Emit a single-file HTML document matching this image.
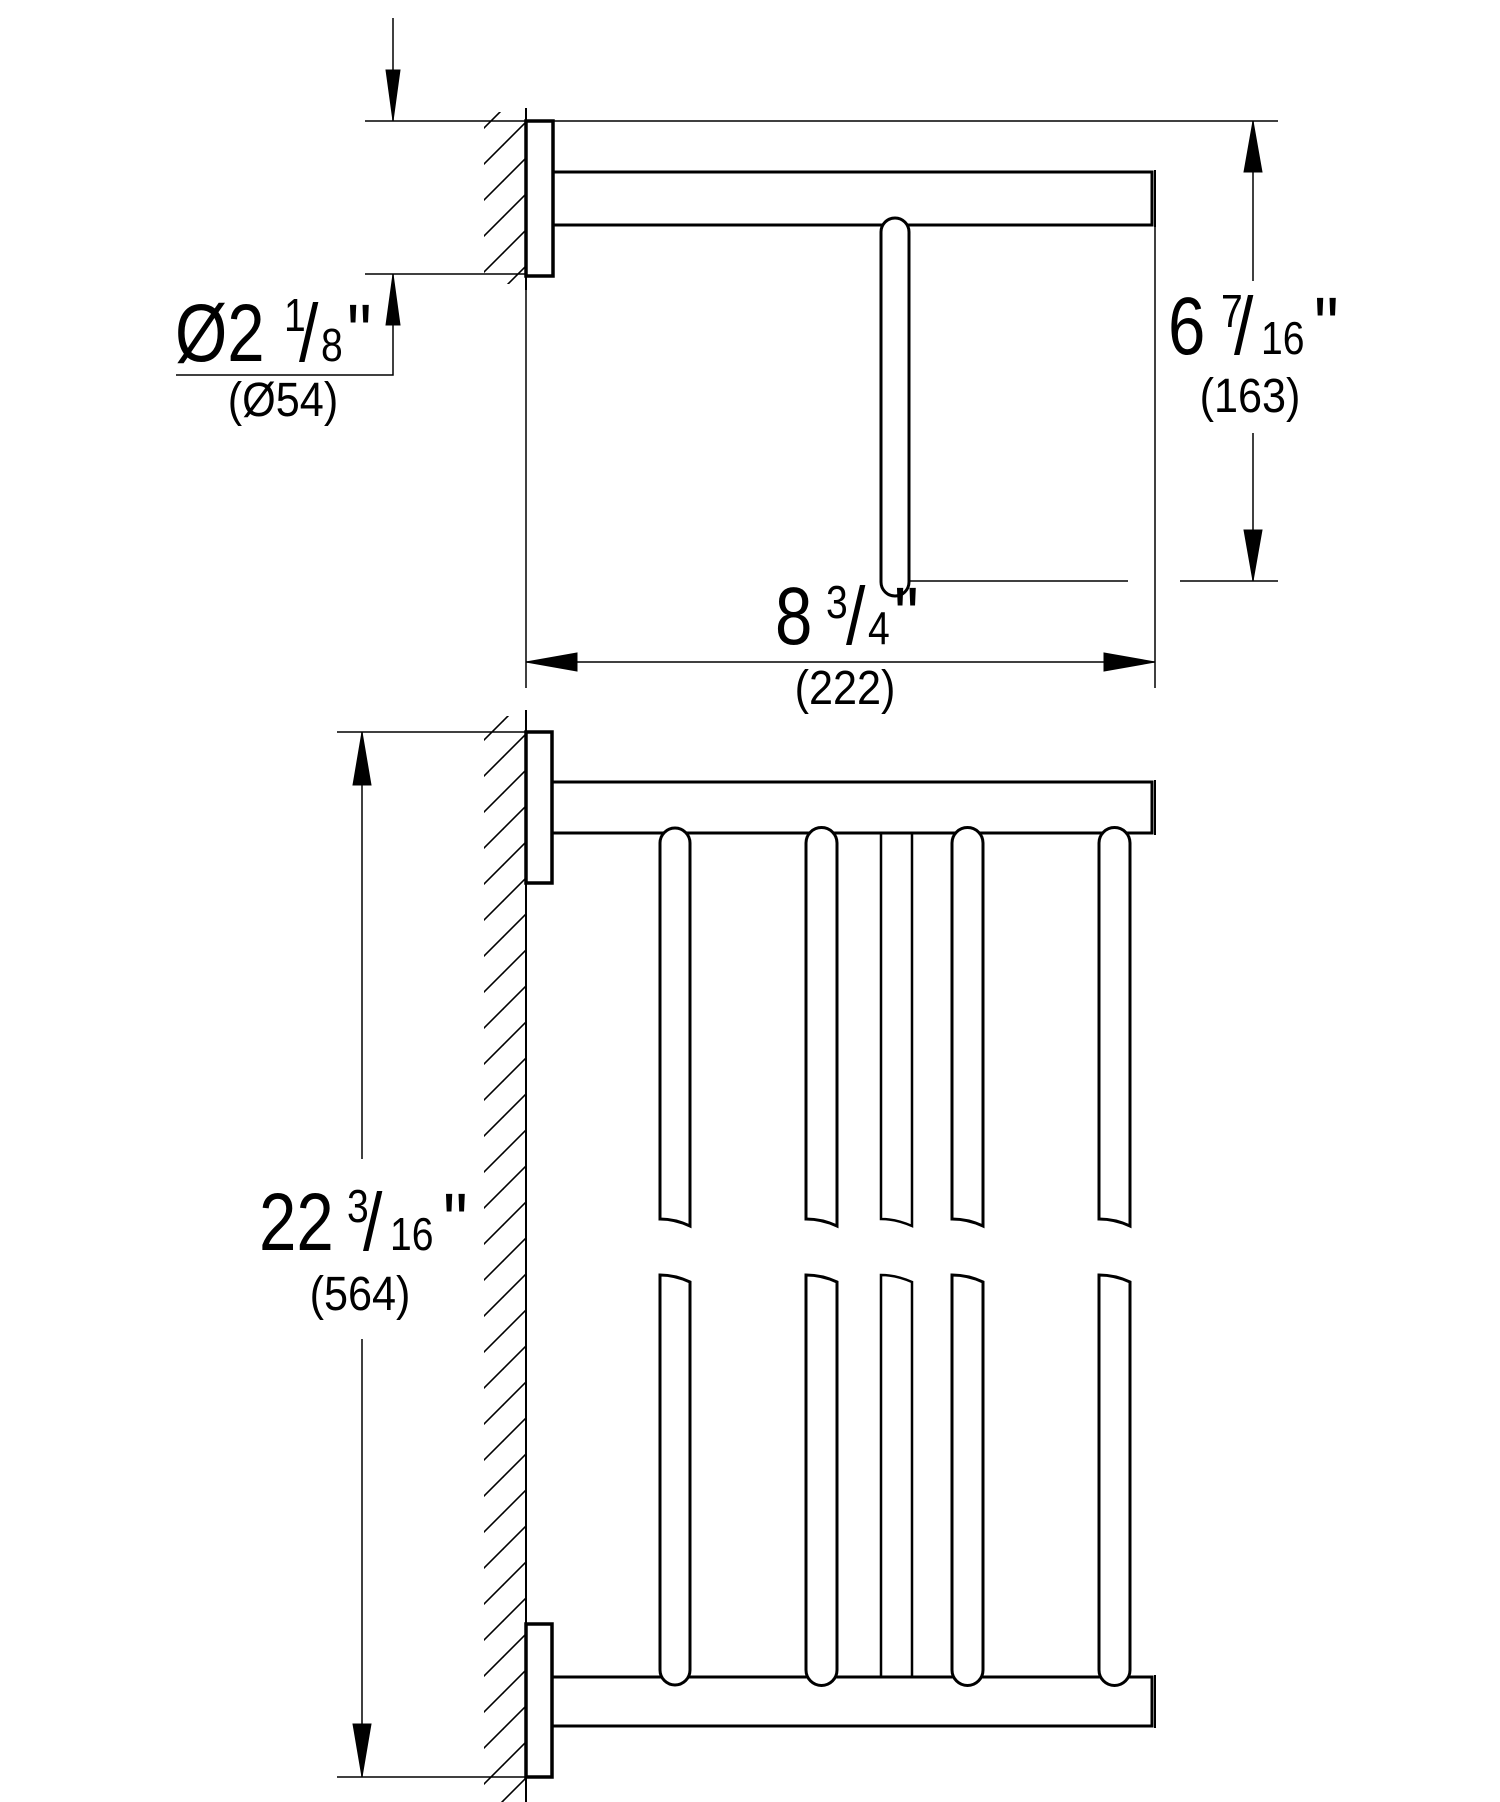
<!DOCTYPE html>
<html><head><meta charset="utf-8"><style>
html,body{margin:0;padding:0;background:#fff}
svg{display:block}
text{font-family:"Liberation Sans",sans-serif;fill:#000}
</style></head><body>
<svg width="1500" height="1802" viewBox="0 0 1500 1802" xmlns="http://www.w3.org/2000/svg">
<defs>
<pattern id="h" patternUnits="userSpaceOnUse" width="36" height="36">
<line x1="-2" y1="38" x2="38" y2="-2" stroke="#000" stroke-width="1.6"/>
<line x1="-38" y1="38" x2="2" y2="-2" stroke="#000" stroke-width="1.6"/>
<line x1="34" y1="38" x2="74" y2="-2" stroke="#000" stroke-width="1.6"/>
</pattern>
</defs>
<g fill="none" stroke="#000">
<rect x="484" y="112" width="42" height="172" fill="url(#h)" stroke="none"/>
<rect x="484" y="716" width="42" height="1086" fill="url(#h)" stroke="none"/>
<line x1="526" y1="108" x2="526" y2="290" stroke-width="2"/>
<line x1="526" y1="710" x2="526" y2="1802" stroke-width="2"/>

<!-- TOP VIEW -->
<line x1="365" y1="121" x2="1278" y2="121" stroke-width="1.5"/>
<line x1="393" y1="18" x2="393" y2="121" stroke-width="1.5"/>
<polygon points="386,70 400,70 393,121" fill="#000"/>
<line x1="365" y1="274" x2="526" y2="274" stroke-width="1.5"/>
<polyline points="393,274 393,375 176,375" stroke-width="1.5"/>
<polygon points="386,325 400,325 393,274" fill="#000"/>
<rect x="526" y="121" width="27" height="155" stroke-width="3.5"/>
<polyline points="553,172 1152,172 1152,225 553,225" stroke-width="3"/>
<line x1="1155" y1="170" x2="1155" y2="227" stroke-width="2"/>
<path d="M881 582 L881 232 A14 14 0 0 1 909 232 L909 582 A14 14 0 0 1 881 582 Z" fill="#fff" stroke-width="3"/>
<line x1="909" y1="581" x2="1128" y2="581" stroke-width="1.5"/>
<line x1="1180" y1="581" x2="1278" y2="581" stroke-width="1.5"/>
<line x1="1253" y1="121" x2="1253" y2="281" stroke-width="1.5"/>
<line x1="1253" y1="433" x2="1253" y2="581" stroke-width="1.5"/>
<polygon points="1244,172 1262,172 1253,121" fill="#000"/>
<polygon points="1244,530 1262,530 1253,581" fill="#000"/>
<line x1="526" y1="290" x2="526" y2="688" stroke-width="1.5"/>
<line x1="1155" y1="227" x2="1155" y2="688" stroke-width="1.5"/>
<line x1="526" y1="662" x2="1155" y2="662" stroke-width="1.5"/>
<polygon points="526,662 577,653 577,671" fill="#000"/>
<polygon points="1155,662 1104,653 1104,671" fill="#000"/>

<!-- BOTTOM VIEW -->
<line x1="337" y1="732" x2="552" y2="732" stroke-width="1.5"/>
<line x1="337" y1="1777" x2="552" y2="1777" stroke-width="1.5"/>
<line x1="362" y1="732" x2="362" y2="1159" stroke-width="1.5"/>
<line x1="362" y1="1339" x2="362" y2="1777" stroke-width="1.5"/>
<polygon points="353,785 371,785 362,732" fill="#000"/>
<polygon points="353,1724 371,1724 362,1777" fill="#000"/>
<rect x="526" y="732" width="26" height="151" stroke-width="3.5"/>
<rect x="526" y="1624" width="26" height="153" stroke-width="3.5"/>
<polyline points="552,782 1152,782 1152,833 552,833" stroke-width="3"/>
<line x1="1155" y1="780" x2="1155" y2="835" stroke-width="2"/>
<polyline points="552,1677 1152,1677 1152,1726 552,1726" stroke-width="3"/>
<line x1="1155" y1="1675" x2="1155" y2="1728" stroke-width="2"/>
<path d="M881 833 L881 1219 Q896 1219 912 1226 L912 833" stroke-width="2.5"/>
<path d="M881 1677 L881 1275 Q896 1275 912 1282 L912 1677" stroke-width="2.5"/>
<g stroke-width="3" fill="#fff">
<path d="M660 1219 L660 843 A15 15 0 0 1 690 843 L690 1226 Q675 1219 660 1219 Z"/>
<path d="M660 1275 Q675 1275 690 1282 L690 1670 A15 15 0 0 1 660 1670 Z"/>
<path d="M806 1219 L806 843 A15.5 15.5 0 0 1 837 843 L837 1226 Q822 1219 806 1219 Z"/>
<path d="M806 1275 Q822 1275 837 1282 L837 1670 A15.5 15.5 0 0 1 806 1670 Z"/>
<path d="M952 1219 L952 843 A15.5 15.5 0 0 1 983 843 L983 1226 Q968 1219 952 1219 Z"/>
<path d="M952 1275 Q968 1275 983 1282 L983 1670 A15.5 15.5 0 0 1 952 1670 Z"/>
<path d="M1099 1219 L1099 843 A15.5 15.5 0 0 1 1130 843 L1130 1226 Q1115 1219 1099 1219 Z"/>
<path d="M1099 1275 Q1115 1275 1130 1282 L1130 1670 A15.5 15.5 0 0 1 1099 1670 Z"/>
</g>
</g>

<!-- TEXT -->
<g>
<text transform="translate(175,361) scale(0.82,1)" font-size="82">Ø2</text>
<text transform="translate(284,331) scale(0.85,1)" font-size="46">1</text>
<text transform="translate(299,361) scale(0.85,1)" font-size="82">/</text>
<text transform="translate(321,361) scale(0.85,1)" font-size="46">8</text>
<text transform="translate(347,361) scale(0.85,1)" font-size="82">"</text>
<text transform="translate(283,416) scale(0.9,1)" font-size="48" text-anchor="middle">(Ø54)</text>

<text transform="translate(1168,354) scale(0.82,1)" font-size="82">6</text>
<text transform="translate(1221,327) scale(0.85,1)" font-size="46">7</text>
<text transform="translate(1234,354) scale(0.85,1)" font-size="82">/</text>
<text transform="translate(1261,354) scale(0.85,1)" font-size="46">16</text>
<text transform="translate(1314,354) scale(0.85,1)" font-size="82">"</text>
<text transform="translate(1250,412) scale(0.9,1)" font-size="48" text-anchor="middle">(163)</text>

<text transform="translate(775,644) scale(0.82,1)" font-size="82">8</text>
<text transform="translate(826,618) scale(0.85,1)" font-size="46">3</text>
<text transform="translate(846,644) scale(0.85,1)" font-size="82">/</text>
<text transform="translate(868,644) scale(0.85,1)" font-size="46">4</text>
<text transform="translate(894,644) scale(0.85,1)" font-size="82">"</text>
<text transform="translate(845,704) scale(0.9,1)" font-size="48" text-anchor="middle">(222)</text>

<text transform="translate(259,1250) scale(0.82,1)" font-size="82">22</text>
<text transform="translate(347,1222) scale(0.85,1)" font-size="46">3</text>
<text transform="translate(363,1250) scale(0.85,1)" font-size="82">/</text>
<text transform="translate(390,1250) scale(0.85,1)" font-size="46">16</text>
<text transform="translate(443,1250) scale(0.85,1)" font-size="82">"</text>
<text transform="translate(360,1310) scale(0.9,1)" font-size="48" text-anchor="middle">(564)</text>
</g>
</svg>
</body></html>
